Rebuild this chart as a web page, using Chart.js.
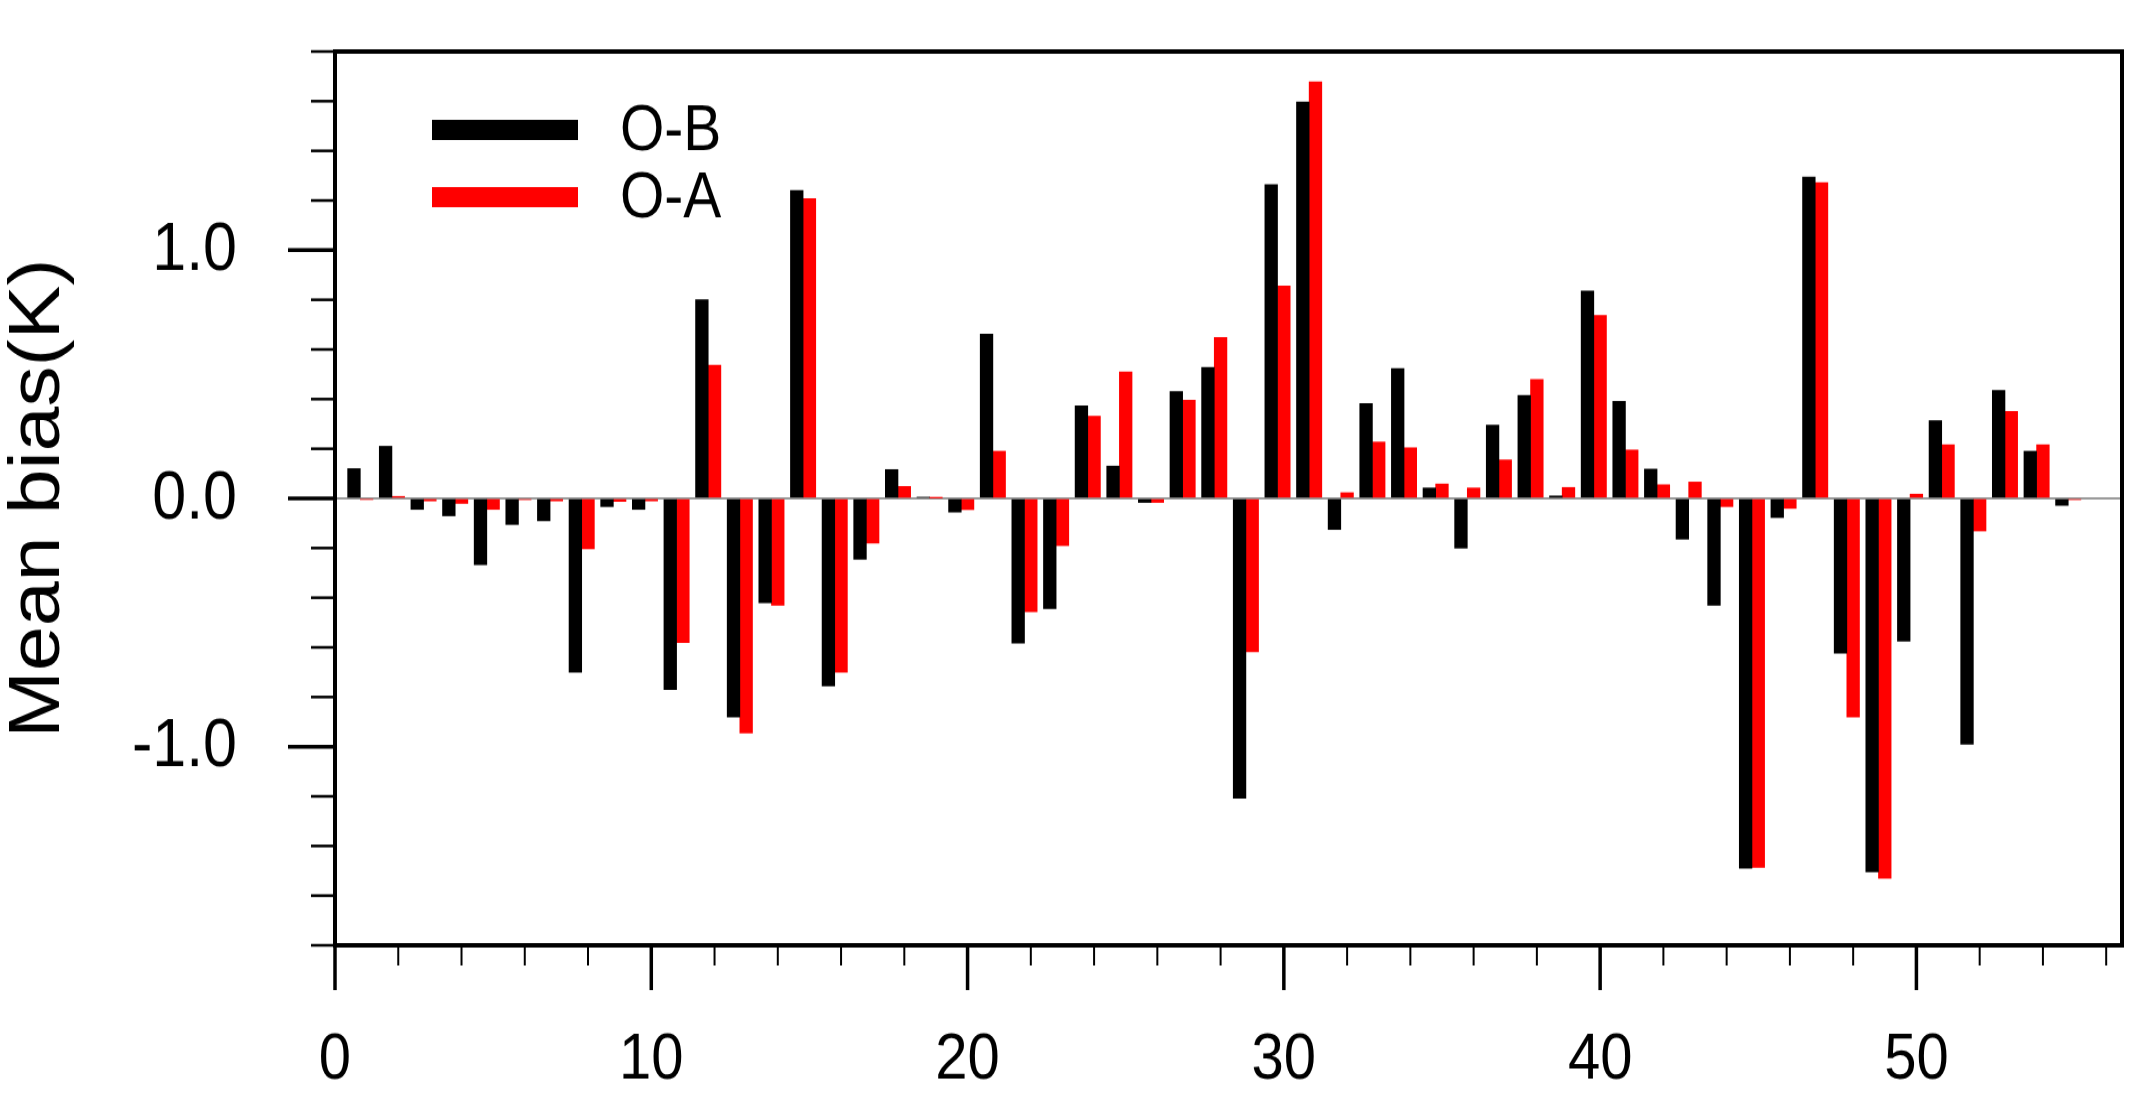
<!DOCTYPE html>
<html>
<head>
<meta charset="utf-8">
<title>Mean bias O-B / O-A</title>
<script src="https://cdn.jsdelivr.net/npm/chart.js@4.4.1/dist/chart.umd.min.js"></script>
<style>
  html { overflow: hidden; }
  body { margin: 0; padding: 0; background: #fff; height: 1106px; }
  /* the original figure is a little stretched vertically */
  #wrap { width: 2142px; height: 988px; transform: scaleY(1.12); transform-origin: 0 0; }
  #chart { display: block; }
</style>
</head>
<body>
<div id="wrap"><canvas id="chart" width="2142" height="988"></canvas></div>
<script>
const channels = [1, 2, 3, 4, 5, 6, 7, 8, 9, 10, 11, 12, 13, 14, 15, 16, 17, 18, 19, 20,
    21, 22, 23, 24, 25, 26, 27, 28, 29, 30, 31, 32, 33, 34, 35, 36, 37, 38, 39, 40,
    41, 42, 43, 44, 45, 46, 47, 48, 49, 50, 51, 52, 53, 54, 55];

// O-B (observation minus background)
const omb = [0.12, 0.21, -0.044, -0.07, -0.267, -0.105, -0.09, -0.70, -0.033, -0.044,
    -0.77, 0.80, -0.88, -0.42, 1.24, -0.755, -0.245, 0.116, 0.005, -0.055,
    0.662, -0.583, -0.444, 0.373, 0.13, -0.016, 0.43, 0.528, -1.208, 1.264,
    1.597, -0.125, 0.382, 0.523, 0.042, -0.20, 0.295, 0.415, 0.01, 0.835,
    0.391, 0.118, -0.164, -0.43, -1.49, -0.077, 1.294, -0.623, -1.504, -0.575,
    0.313, -0.99, 0.435, 0.19, -0.028];

// O-A (observation minus analysis)
const oma = [-0.004, 0.008, -0.01, -0.02, -0.044, -0.005, -0.01, -0.203, -0.012, -0.01,
    -0.58, 0.536, -0.945, -0.43, 1.207, -0.70, -0.18, 0.048, 0.002, -0.045,
    0.19, -0.456, -0.19, 0.331, 0.509, -0.016, 0.396, 0.648, -0.618, 0.856,
    1.678, 0.023, 0.227, 0.204, 0.058, 0.042, 0.155, 0.479, 0.044, 0.737,
    0.195, 0.055, 0.066, -0.033, -1.486, -0.04, 1.272, -0.881, -1.53, 0.017,
    0.216, -0.131, 0.35, 0.216, -0.005];

const xTickLabels = [0, 10, 20, 30, 40, 50];
const yTickLabels = [-1, 0, 1];

const fontFamily = "'Liberation Sans', Arial, Helvetica, sans-serif";
const obShift = 0.4; // O-B bar sits just left of the O-A bar

// frame, outward tick marks, tick labels and the legend
const frameAndTicks = {
    id: 'frameAndTicks',
    afterDraw(chart) {
        const { ctx, chartArea: a, scales: { x, y } } = chart;
        ctx.save();
        ctx.strokeStyle = '#000';
        ctx.fillStyle = '#000';
        ctx.lineCap = 'butt';

        ctx.font = '61px ' + fontFamily;
        ctx.textAlign = 'right';
        ctx.textBaseline = 'middle';
        y.ticks.forEach(t => {
            const py = y.getPixelForValue(t.value);
            const major = yTickLabels.some(v => Math.abs(v - t.value) < 1e-6);
            ctx.lineWidth = major ? 3.5 : 2.5;
            ctx.beginPath();
            ctx.moveTo(a.left, py);
            ctx.lineTo(a.left - (major ? 47 : 24), py);
            ctx.stroke();
            if (major) {
                ctx.fillText((Math.round(t.value * 10) / 10).toFixed(1), a.left - 98, py + 1);
            }
        });

        ctx.font = '58px ' + fontFamily;
        ctx.textAlign = 'center';
        x.ticks.forEach(t => {
            const px = x.getPixelForValue(t.value);
            const major = xTickLabels.includes(t.value);
            ctx.lineWidth = major ? 3.5 : 2;
            ctx.beginPath();
            ctx.moveTo(px, a.bottom);
            ctx.lineTo(px, a.bottom + (major ? 40 : 18));
            ctx.stroke();
            if (major) {
                ctx.fillText(String(t.value), px, a.bottom + 103);
            }
        });

        ctx.lineWidth = 4;
        ctx.strokeRect(a.left, a.top, a.right - a.left, a.bottom - a.top);

        // legend
        ctx.font = '57px ' + fontFamily;
        ctx.textAlign = 'left';
        chart.data.datasets.forEach((ds, i) => {
            const cy = a.top + 70 + i * 60;
            ctx.fillStyle = ds.backgroundColor;
            ctx.fillRect(a.left + 97, cy - 9, 146, 18);
            ctx.fillStyle = '#000';
            ctx.fillText(ds.label, a.left + 285, cy + 2);
        });
        ctx.restore();
    }
};

new Chart(document.getElementById('chart'), {
    type: 'bar',
    data: {
        datasets: [
            {
                label: 'O-B',
                data: channels.map((c, i) => ({ x: c - obShift, y: omb[i] })),
                backgroundColor: '#000000'
            },
            {
                label: 'O-A',
                data: channels.map((c, i) => ({ x: c, y: oma[i] })),
                backgroundColor: '#ff0000'
            }
        ]
    },
    options: {
        responsive: false,
        animation: false,
        layout: { padding: { top: 46, right: 20, left: 0, bottom: 0 } },
        datasets: {
            bar: { grouped: false, categoryPercentage: 1, barPercentage: 1 }
        },
        plugins: {
            legend: { display: false },
            tooltip: { enabled: false }
        },
        scales: {
            x: {
                type: 'linear',
                min: 0,
                max: 56.5,
                offset: false,
                grid: { display: false, drawTicks: false },
                border: { display: false },
                ticks: { display: false, stepSize: 2, autoSkip: false, includeBounds: false },
                afterFit: s => { s.height = 144; }
            },
            y: {
                min: -1.8,
                max: 1.8,
                grid: {
                    drawTicks: false,
                    lineWidth: 2,
                    color: c => (c.tick && Math.abs(c.tick.value) < 1e-6) ? '#9a9a9a' : 'rgba(0,0,0,0)'
                },
                border: { display: false },
                ticks: { display: false, stepSize: 0.2, autoSkip: false },
                title: {
                    display: true,
                    text: 'Mean bias(K)',
                    color: '#000',
                    font: { family: fontFamily, size: 72, lineHeight: 1 },
                    padding: { top: 3, bottom: 0 }
                },
                afterFit: s => { s.width = 335; }
            }
        }
    },
    plugins: [frameAndTicks]
});
</script>
</body>
</html>
